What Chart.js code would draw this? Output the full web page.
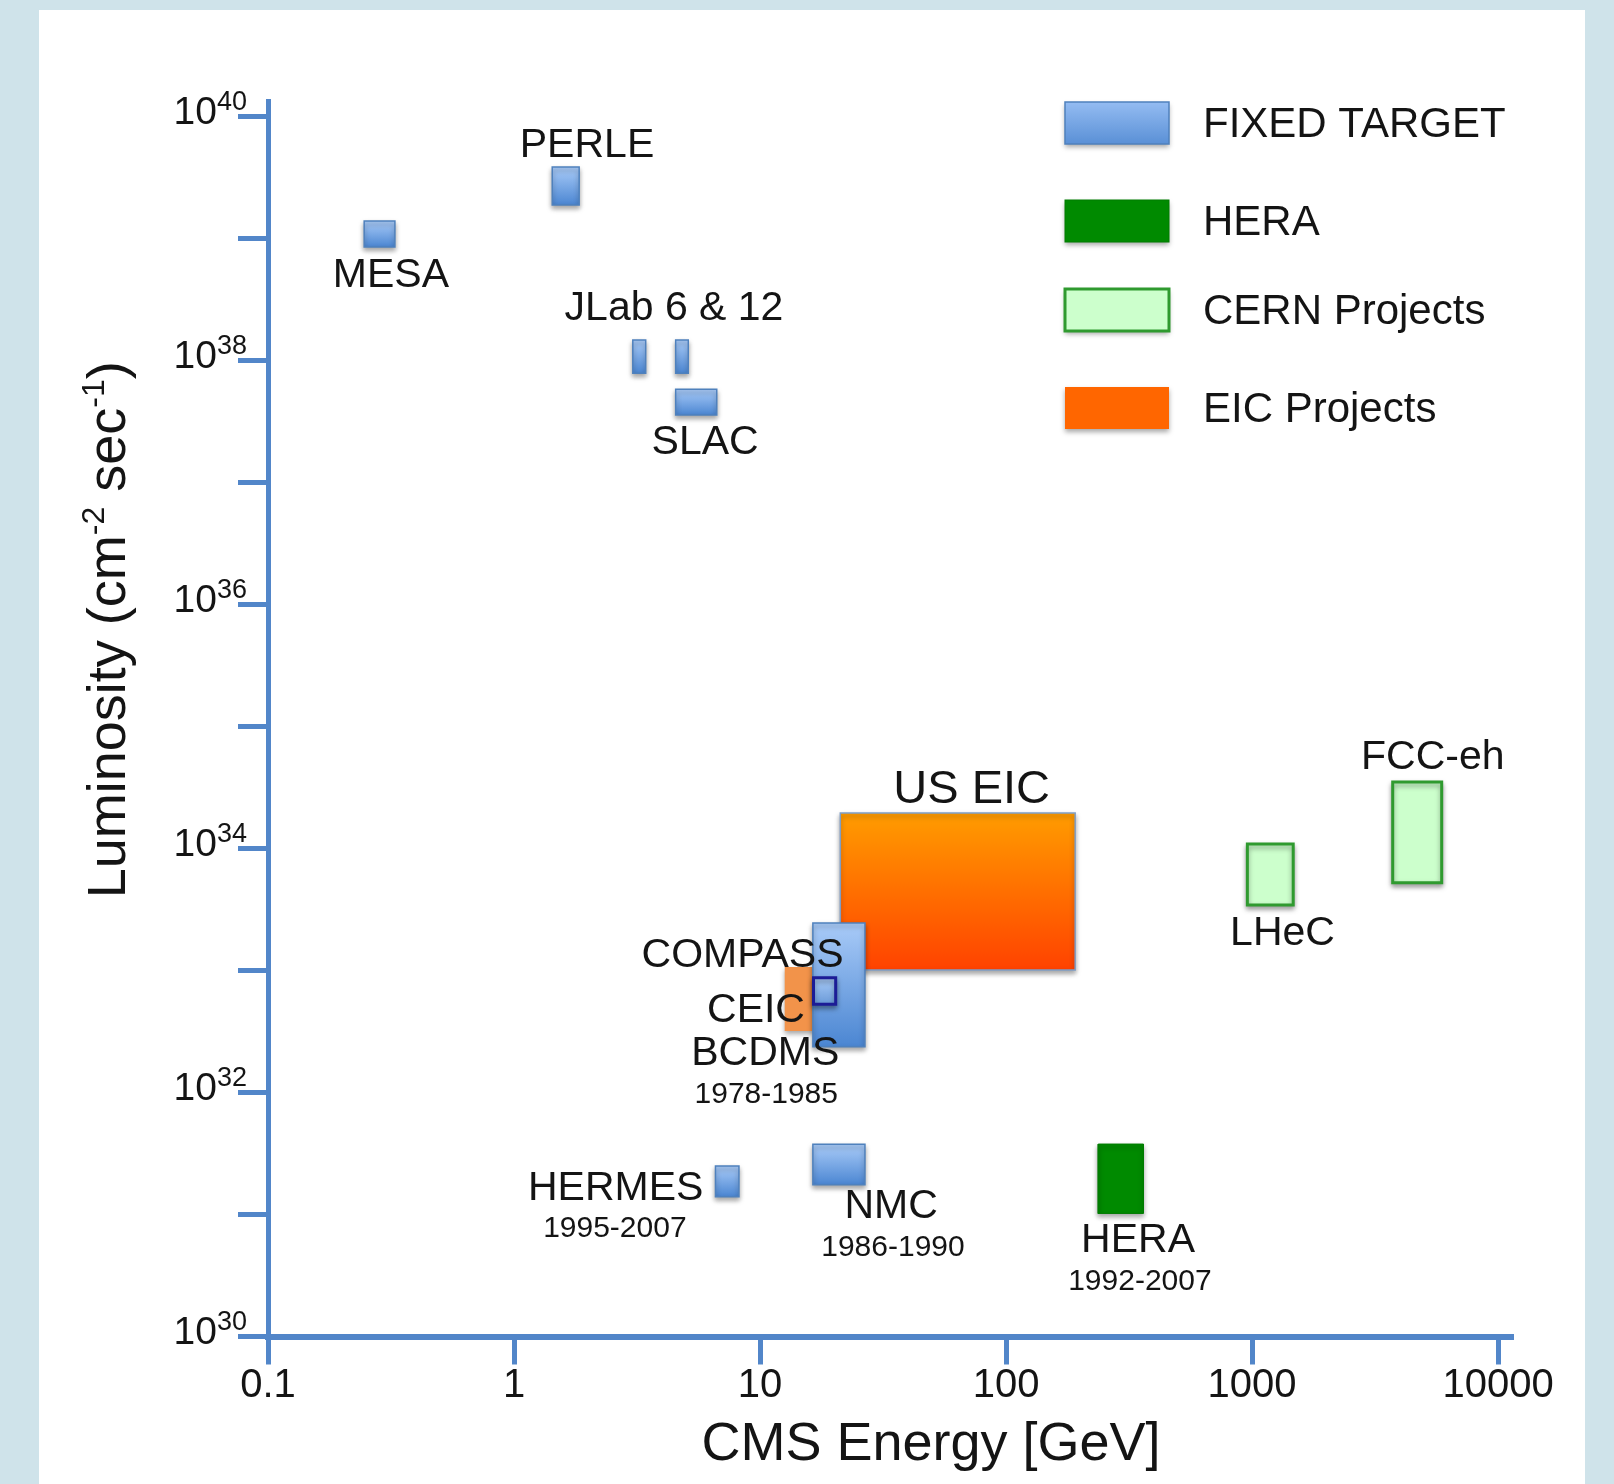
<!DOCTYPE html>
<html>
<head>
<meta charset="utf-8">
<title>Luminosity vs CMS energy</title>
<script src="https://cdn.jsdelivr.net/npm/chart.js@4"></script>
<style>
  html, body { margin: 0; padding: 0; background: #cfe3ea; }
  #panel { position: absolute; left: 39px; top: 10px; width: 1546px; height: 1474px; background: #fff; }
  canvas { display: block; }
</style>
</head>
<body>
<div id="panel"><canvas id="lumiChart" width="1546" height="1474"></canvas></div>
<script>
const FONT = '"Liberation Sans", Arial, Helvetica, sans-serif';
const AXIS = '#5286c9';
const INK = '#141414';

// facilities, listed in drawing order (later ones sit on top)
const facilities = ['US EIC', 'MESA', 'PERLE', 'JLab 6', 'JLab 12', 'SLAC', 'CEIC', 'COMPASS', 'BCDMS', 'HERMES', 'NMC', 'HERA', 'LHeC', 'FCC-eh'];
const groupOf    = ['eic', 'fixed', 'fixed', 'fixed', 'fixed', 'fixed', 'ceic', 'fixed', 'bcdms', 'fixed', 'fixed', 'hera', 'cern', 'cern'];

// CMS energy range [GeV]
const energyLow  = [21.2, 0.246, 1.43, 3.04, 4.54, 4.54, 12.6, 16.4, 16.5, 6.59, 16.4, 237, 957, 3730];
const energyHigh = [191, 0.328, 1.84, 3.43, 5.11, 6.67, 16.7, 26.7, 20.3, 8.21, 26.7, 362, 1470, 5900];

// luminosity range [cm^-2 s^-1]
const lumiLow  = [1.01e33, 8.5e38, 1.88e39, 7.85e37, 7.85e37, 3.57e37, 3.19e32, 2.37e32, 5.3e32, 1.4e31, 1.75e31, 1.02e31, 3.44e33, 5.25e33];
const lumiHigh = [1.95e34, 1.39e39, 3.86e39, 1.47e38, 1.47e38, 5.81e37, 1.07e33, 2.45e33, 8.73e32, 2.5e31, 3.76e31, 3.78e31, 1.09e34, 3.51e34];

const xTicks = [0.1, 1, 10, 100, 1000, 10000];
const yTicks = [1e30, 1e31, 1e32, 1e33, 1e34, 1e35, 1e36, 1e37, 1e38, 1e39, 1e40];

// text placed next to the boxes (energy, luminosity of the text baseline centre)
const notes = [
  { text: 'PERLE', e: 1.98, lumi: 4.7e39 },
  { text: 'MESA', e: 0.316, lumi: 4.0e38 },
  { text: 'JLab 6 & 12', e: 4.47, lumi: 2.15e38 },
  { text: 'SLAC', e: 5.98, lumi: 1.71e37 },
  { text: 'US EIC', e: 72.5, lumi: 2.36e34, size: 47 },
  { text: 'COMPASS', e: 8.49, lumi: 1.06e33 },
  { text: 'CEIC', e: 9.63, lumi: 3.78e32 },
  { text: 'BCDMS', e: 10.5, lumi: 1.68e32 },
  { text: '1978-1985', e: 10.6, lumi: 8.2e31, size: 30 },
  { text: 'HERMES', e: 2.59, lumi: 1.32e31 },
  { text: '1995-2007', e: 2.57, lumi: 6.5e30, size: 30 },
  { text: 'NMC', e: 34.1, lumi: 9.3e30 },
  { text: '1986-1990', e: 34.7, lumi: 4.6e30, size: 30 },
  { text: 'HERA', e: 344, lumi: 4.95e30 },
  { text: '1992-2007', e: 350, lumi: 2.4e30, size: 30 },
  { text: 'LHeC', e: 1330, lumi: 1.62e33 },
  { text: 'FCC-eh', e: 5430, lumi: 4.45e34 }
];

const styles = {
  fixed: { fill: ['#a9cbf8', '#4b86d2'], border: '#4f81bd', width: 1.5 },
  bcdms: { fill: ['#a9cbf8', '#6a9ad8'], border: '#1c1c96', width: 3 },
  eic:   { fill: ['#ff9c00', '#ff4200'], border: '#7f9ec6', width: 1.5 },
  ceic:  { fill: '#f2934a', border: 'rgba(0,0,0,0)', width: 1 },
  hera:  { fill: '#008a00', border: '#007c00', width: 1 },
  cern:  { fill: '#ccffcc', border: '#2f9a2f', width: 3 },
  eicKey: { fill: '#ff6600', border: 'rgba(0,0,0,0)', width: 1 }
};

const legendRows = [
  { text: 'FIXED TARGET', style: 'fixed' },
  { text: 'HERA', style: 'hera' },
  { text: 'CERN Projects', style: 'cern' },
  { text: 'EIC Projects', style: 'eicKey' }
];

function boxFill(chart, i, st) {
  if (!Array.isArray(st.fill)) return st.fill;
  const y = chart.scales.y;
  if (!y || !chart.chartArea) return st.fill[1];
  const top = y.getPixelForValue(lumiHigh[i]);
  const bottom = y.getPixelForValue(lumiLow[i]);
  const g = chart.ctx.createLinearGradient(0, top, 0, bottom);
  g.addColorStop(0, st.fill[0]);
  g.addColorStop(1, st.fill[1]);
  return g;
}

// every facility is a closed rectangle in (energy, luminosity)
const datasets = facilities.map((name, i) => {
  const st = styles[groupOf[i]];
  const x0 = energyLow[i], x1 = energyHigh[i];
  const y0 = lumiLow[i], y1 = lumiHigh[i];
  return {
    label: name,
    data: [{ x: x0, y: y0 }, { x: x1, y: y0 }, { x: x1, y: y1 }, { x: x0, y: y1 }, { x: x0, y: y0 }],
    fill: 'shape',
    backgroundColor: (c) => boxFill(c.chart, i, st),
    borderColor: st.border,
    borderWidth: st.width,
    borderJoinStyle: 'miter',
    borderCapStyle: 'square',
    pointRadius: 0,
    pointHoverRadius: 0,
    tension: 0,
    order: facilities.length - i
  };
});

const boxShadow = {
  id: 'boxShadow',
  beforeDatasetsDraw(chart) {
    const ctx = chart.ctx;
    ctx.save();
    ctx.shadowColor = 'rgba(0,0,0,0.35)';
    ctx.shadowBlur = 5;
    ctx.shadowOffsetX = 0;
    ctx.shadowOffsetY = 3;
  },
  afterDatasetsDraw(chart) {
    chart.ctx.restore();
  }
};

function drawPieces(ctx, pieces, x, y) {
  // pieces: [text, size, raise]
  let w = 0;
  pieces.forEach(p => { ctx.font = p[1] + 'px ' + FONT; w += ctx.measureText(p[0]).width; });
  let cx = x - w / 2;
  ctx.textAlign = 'left';
  pieces.forEach(p => {
    ctx.font = p[1] + 'px ' + FONT;
    ctx.fillText(p[0], cx, y - p[2]);
    cx += ctx.measureText(p[0]).width;
  });
}

const textLayer = {
  id: 'textLayer',
  afterDraw(chart) {
    const { ctx, chartArea: area, scales } = chart;
    ctx.save();
    ctx.fillStyle = INK;
    ctx.textBaseline = 'alphabetic';

    // y tick labels as powers of ten
    yTicks.forEach(v => {
      const exp = Math.round(Math.log10(v));
      if (exp % 2) return;
      const py = scales.y.getPixelForValue(v);
      const right = area.left - 21;
      ctx.textAlign = 'right';
      ctx.font = '27px ' + FONT;
      const supW = ctx.measureText(String(exp)).width;
      ctx.fillText(String(exp), right, py - 7);
      ctx.font = '39px ' + FONT;
      ctx.fillText('10', right - supW, py + 7);
    });

    // axis titles
    ctx.save();
    ctx.translate(area.left - 143, (area.top + area.bottom) / 2 - 89);
    ctx.rotate(-Math.PI / 2);
    drawPieces(ctx, [['Luminosity (cm', 54, 0], ['-2', 32, 21], [' sec', 54, 0], ['-1', 32, 21], [')', 54, 0]], 0, 0);
    ctx.restore();
    drawPieces(ctx, [['CMS Energy [GeV]', 54, 0]], area.left + 663, area.bottom + 123);

    // facility names and years
    ctx.textAlign = 'center';
    notes.forEach(n => {
      ctx.font = (n.size || 41) + 'px ' + FONT;
      ctx.fillText(n.text, scales.x.getPixelForValue(n.e), scales.y.getPixelForValue(n.lumi));
    });

    // legend
    const keyX = area.left + 797;
    const keyTops = [1, 99, 188, 286];
    legendRows.forEach((row, k) => {
      const st = styles[row.style];
      const top = area.top + keyTops[k];
      const w = 104, h = 42;
      ctx.save();
      ctx.shadowColor = 'rgba(0,0,0,0.35)';
      ctx.shadowBlur = 5;
      ctx.shadowOffsetY = 3;
      if (Array.isArray(st.fill)) {
        const g = ctx.createLinearGradient(0, top, 0, top + h);
        g.addColorStop(0, '#94bcf2');
        g.addColorStop(1, '#5a90d6');
        ctx.fillStyle = g;
      } else {
        ctx.fillStyle = st.fill;
      }
      ctx.fillRect(keyX, top, w, h);
      ctx.restore();
      ctx.lineWidth = st.width;
      ctx.strokeStyle = st.border;
      ctx.strokeRect(keyX, top, w, h);
      ctx.fillStyle = INK;
      ctx.textAlign = 'left';
      ctx.font = '42px ' + FONT;
      ctx.fillText(row.text, keyX + 138, top + h / 2 + 14);
    });
    ctx.restore();
  }
};

new Chart(document.getElementById('lumiChart'), {
  type: 'line',
  data: { datasets },
  options: {
    responsive: false,
    animation: false,
    events: [],
    layout: { padding: { top: 91, right: 72, bottom: 0, left: 0 } },
    plugins: {
      legend: { display: false },
      tooltip: { enabled: false }
    },
    scales: {
      x: {
        type: 'logarithmic',
        min: 0.1,
        max: 11500,
        afterBuildTicks: (s) => { s.ticks = xTicks.map(v => ({ value: v })); },
        afterFit: (s) => { s.height = 147.5; },
        ticks: {
          callback: (v) => xTicks.includes(v) ? String(v) : '',
          font: { family: FONT, size: 40, lineHeight: 1 },
          color: INK,
          padding: 1,
          maxRotation: 0,
          autoSkip: false
        },
        grid: { drawOnChartArea: false, drawTicks: true, tickLength: 28, tickWidth: 5, tickColor: AXIS },
        border: { display: true, color: AXIS, width: 6 }
      },
      y: {
        type: 'logarithmic',
        min: 1e30,
        max: 1.34e40,
        afterBuildTicks: (s) => { s.ticks = yTicks.map(v => ({ value: v })); },
        afterFit: (s) => { s.width = 229; },
        ticks: { display: false },
        grid: { drawOnChartArea: false, drawTicks: true, tickLength: 30, tickWidth: 5, tickColor: AXIS },
        border: { display: true, color: AXIS, width: 5 }
      }
    }
  },
  plugins: [boxShadow, textLayer]
});
</script>
</body>
</html>
